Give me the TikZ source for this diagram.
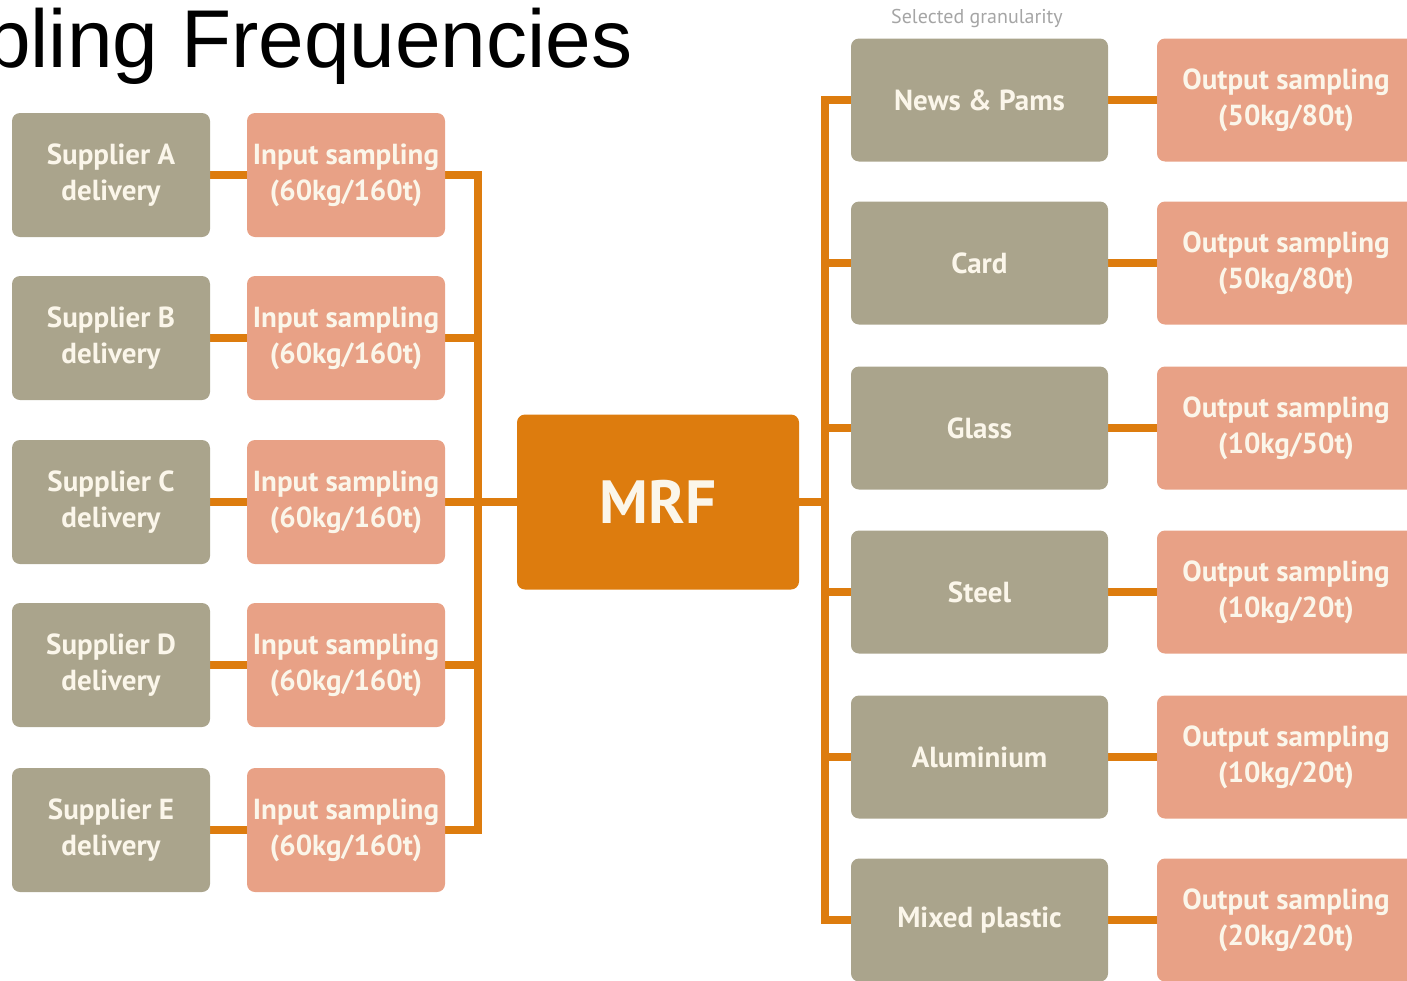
\documentclass[tikz,border=0pt]{standalone}
\usepackage{fontspec}
\setmainfont{Liberation Sans}
\newfontfamily\boxfont{PT Sans}
\usetikzlibrary{backgrounds}
\definecolor{taupe}{RGB}{170,164,140}
\definecolor{salmon}{RGB}{232,161,134}
\definecolor{orng}{RGB}{221,124,14}
\definecolor{boxtext}{RGB}{251,246,234}
\definecolor{lightgray}{RGB}{165,165,165}
\tikzset{
  box/.style={rectangle, rounded corners=8pt, inner sep=0pt, align=center,
    text=boxtext, font=\boxfont\bfseries\fontsize{29}{36}\selectfont},
  supbox/.style={box, fill=taupe, minimum width=198pt, minimum height=124pt},
  inbox/.style={box, fill=salmon, minimum width=198pt, minimum height=124pt},
  matbox/.style={box, fill=taupe, minimum width=257pt, minimum height=123pt},
  outbox/.style={box, fill=salmon, minimum width=258pt, minimum height=123pt},
  mrfbox/.style={box, fill=orng, minimum width=282pt, minimum height=175pt,
    font=\boxfont\bfseries\fontsize{61}{64}\selectfont},
  conn/.style={draw=orng, line width=8pt, line join=miter}
}
\begin{document}
\begin{tikzpicture}[x=1pt,y=-1pt]
\useasboundingbox (0,0) rectangle (1407,980);
\clip (0,0) rectangle (1407,980);
\node[anchor=base west, inner sep=0pt, font=\fontsize{82}{90}\selectfont] (title) at (-15,67) {pling Frequencies};
\node[inner sep=0pt, text=lightgray, font=\boxfont\fontsize{20}{22}\selectfont] (sel) at (977,18) {Selected granularity};
% left
\node[supbox] (supA) at (111,175) {Supplier A\\delivery};
\node[supbox] (supB) at (111,338) {Supplier B\\delivery};
\node[supbox] (supC) at (111,502) {Supplier C\\delivery};
\node[supbox] (supD) at (111,665) {Supplier D\\delivery};
\node[supbox] (supE) at (111,830) {Supplier E\\delivery};
\node[inbox] (inA) at (346,175) {Input sampling\\(60kg/160t)};
\node[inbox] (inB) at (346,338) {Input sampling\\(60kg/160t)};
\node[inbox] (inC) at (346,502) {Input sampling\\(60kg/160t)};
\node[inbox] (inD) at (346,665) {Input sampling\\(60kg/160t)};
\node[inbox] (inE) at (346,830) {Input sampling\\(60kg/160t)};
\node[mrfbox] (mrf) at (658,502) {MRF};
% right
\node[matbox] (news) at (979.5,100) {News \& Pams};
\node[matbox] (card) at (979.5,263) {Card};
\node[matbox] (glass) at (979.5,428) {Glass};
\node[matbox] (steel) at (979.5,592) {Steel};
\node[matbox] (alu) at (979.5,757) {Aluminium};
\node[matbox] (mix) at (979.5,920) {Mixed plastic};
\node[outbox] (outN) at (1286,100) {Output sampling\\(50kg/80t)};
\node[outbox] (outC) at (1286,263) {Output sampling\\(50kg/80t)};
\node[outbox] (outG) at (1286,428) {Output sampling\\(10kg/50t)};
\node[outbox] (outS) at (1286,592) {Output sampling\\(10kg/20t)};
\node[outbox] (outA) at (1286,757) {Output sampling\\(10kg/20t)};
\node[outbox] (outM) at (1286,920) {Output sampling\\(20kg/20t)};
\coordinate (lbus) at (478,502);
\coordinate (rbus) at (825,502);
\begin{scope}[on background layer]
\foreach \s/\i in {supA/inA,supB/inB,supC/inC,supD/inD,supE/inE}{
  \draw[conn] (\s) -- (\i);
}
\draw[conn] (inA.east) -| (lbus) |- (inE.east);
\foreach \i in {inB,inC,inD}{
  \draw[conn] (\i.east) -- (\i.east -| lbus);
}
\draw[conn] (lbus) -- (mrf);
\draw[conn] (mrf) -- (rbus);
\draw[conn] (news.west) -| (rbus) |- (mix.west);
\foreach \m in {card,glass,steel,alu}{
  \draw[conn] (\m.west) -- (\m.west -| rbus);
}
\foreach \m/\o in {news/outN,card/outC,glass/outG,steel/outS,alu/outA,mix/outM}{
  \draw[conn] (\m) -- (\o);
}
\end{scope}
\end{tikzpicture}
\end{document}
